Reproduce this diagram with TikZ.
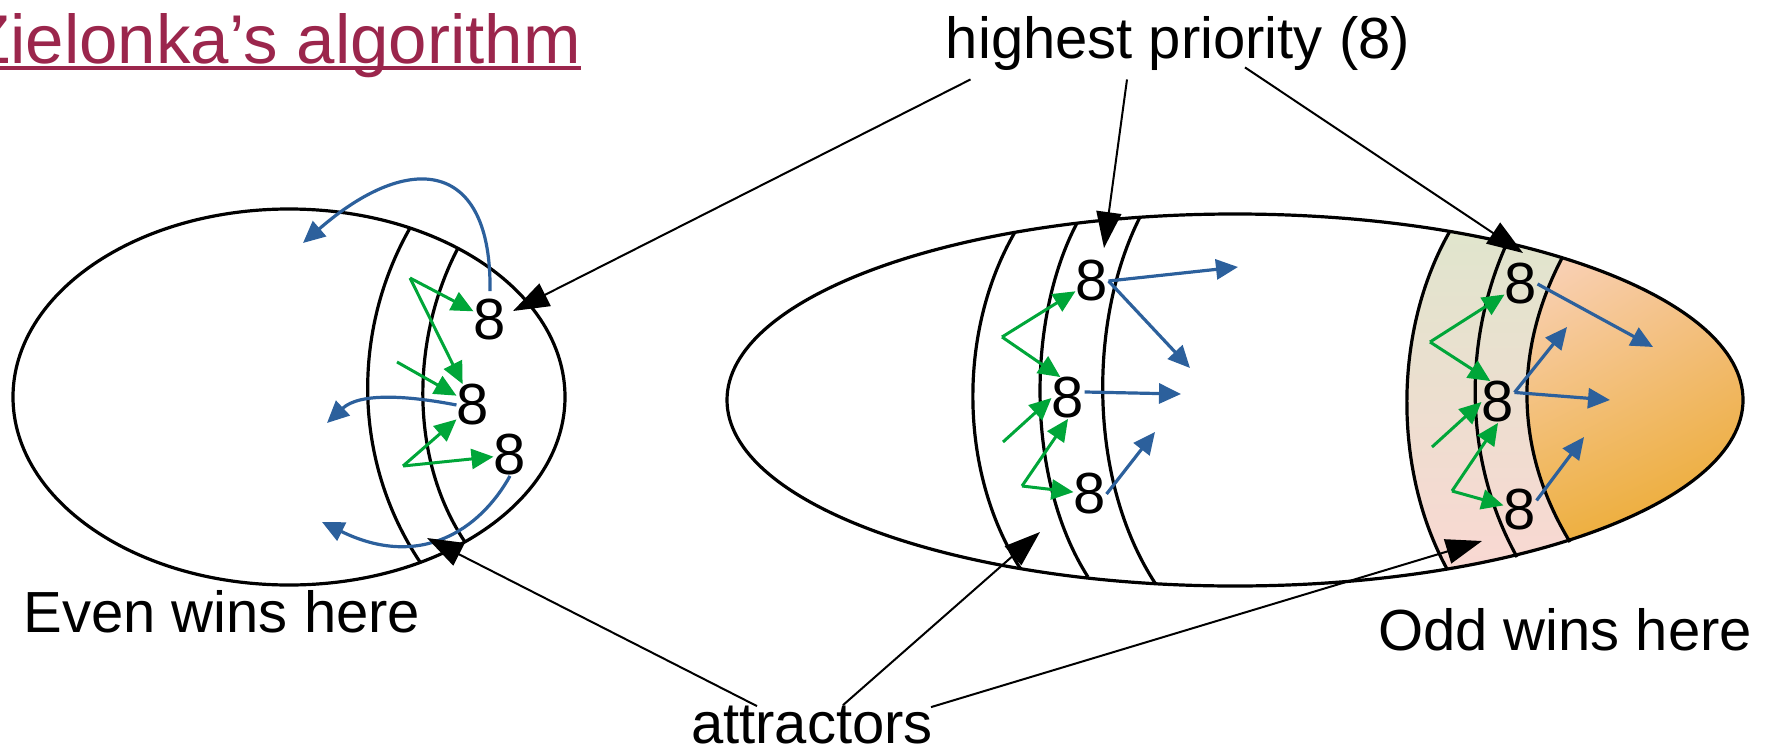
\documentclass[tikz,border=0pt]{standalone}
\usepackage{fontspec}
\setmainfont{Liberation Sans}
\usepackage{xcolor}
\usepackage{tikz}
\usetikzlibrary{arrows.meta, calc, shadings}

\definecolor{zielred}{RGB}{155,38,76}
\definecolor{movblue}{RGB}{44,96,156}
\definecolor{movgreen}{RGB}{0,166,57}
\definecolor{bandtop}{RGB}{224,229,205}
\definecolor{bandbot}{RGB}{249,216,210}
\definecolor{oddA}{RGB}{250,212,192}
\definecolor{oddB}{RGB}{244,194,140}
\definecolor{oddC}{RGB}{238,178,72}
\definecolor{oddD}{RGB}{235,168,40}

\tikzset{
  lbl/.style={font=\fontsize{29pt}{34pt}\selectfont, inner sep=0pt, anchor=base},
  prio/.style={font=\fontsize{29pt}{34pt}\selectfont, inner sep=0pt},
  region/.style={line width=1.6pt},
  pointer/.style={line width=1pt, -{Triangle[length=18pt, width=12.5pt]}},
  oddmove/.style={movblue, line width=1.6pt, -{Triangle[length=11pt, width=10pt]}},
  evenmove/.style={movgreen, line width=1.5pt, -{Triangle[length=11pt, width=10pt]}},
}

\begin{document}
\begin{tikzpicture}[x=0.5pt, y=-0.5pt]
    \useasboundingbox (0,0) rectangle (1765,755);

    % 1. Shaded attractor bands and odd region of the right game
    \begin{scope}
        \clip (1235,400) ellipse [x radius=508, y radius=186];
        \shade[top color=bandtop, bottom color=bandbot]
            (1450,231) .. controls (1393,330) and (1393,470) .. (1447,569) -- (1572,569)
            -- (1570,542) .. controls (1514,450) and (1514,350) .. (1562,258) -- (1562,231) -- cycle;
        \shade[upper left=oddA, upper right=oddB, lower left=oddC, lower right=oddD]
            (1562,258) .. controls (1514,350) and (1514,450) .. (1570,542)
            -- (1745,542) -- (1745,258) -- cycle;
    \end{scope}

    % 2. The two games
    \draw[region] (289,397) ellipse [x radius=276, y radius=188];
    \draw[region] (1235,400) ellipse [x radius=508, y radius=186];

    % 3. Attractor borders
    % left game
    \draw[region] (410,228) .. controls (352,330) and (352,460) .. (420,562);
    \draw[region] (458,248) .. controls (410,340) and (410,460) .. (465,542);
    % right game, middle
    \draw[region] (1015,232) .. controls (958,330) and (958,470) .. (1020,568);
    \draw[region] (1077,223) .. controls (1026,320) and (1026,480) .. (1088,577);
    \draw[region] (1140,217) .. controls (1088,320) and (1088,480) .. (1155,583);
    % right game, odd side
    \draw[region] (1450,231) .. controls (1393,330) and (1393,470) .. (1447,569);
    \draw[region] (1507,243) .. controls (1463,340) and (1463,460) .. (1517,557);
    \draw[region] (1562,258) .. controls (1514,350) and (1514,450) .. (1570,542);

    % 4. Vertices of priority 8
    \node[prio] (l8a) at (490,320) {8};
    \node[prio] (l8b) at (473,405) {8};
    \node[prio] (l8c) at (510,455) {8};
    \node[prio] (m8a) at (1092,281) {8};
    \node[prio] (m8b) at (1068,398) {8};
    \node[prio] (m8c) at (1090,494) {8};
    \node[prio] (r8a) at (1521,284) {8};
    \node[prio] (r8b) at (1498,402) {8};
    \node[prio] (r8c) at (1520,510) {8};

    % 5. Green moves into the attractors
    \coordinate (lg1) at (410,278);
    \coordinate (lg2) at (397,362);
    \coordinate (lg3) at (403,466);
    \draw[evenmove] (lg1) -- (l8a);
    \draw[evenmove] (lg1) -- (l8b);
    \draw[evenmove] (lg2) -- (l8b);
    \draw[evenmove] (lg3) -- (l8b);
    \draw[evenmove] (lg3) -- (l8c);

    \coordinate (mg1) at (1002,337);
    \coordinate (mg2) at (1003,442);
    \coordinate (mg3) at (1022,486);
    \draw[evenmove] (mg1) -- (m8a);
    \draw[evenmove] (mg1) -- (m8b.110);
    \draw[evenmove] (mg2) -- (m8b.west);
    \draw[evenmove] (mg3) -- (m8b.south);
    \draw[evenmove] (mg3) -- (m8c);

    \coordinate (rg1) at (1430,342);
    \coordinate (rg2) at (1432,447);
    \coordinate (rg3) at (1452,491);
    \draw[evenmove] (rg1) -- (r8a);
    \draw[evenmove] (rg1) -- (r8b.110);
    \draw[evenmove] (rg2) -- (r8b.west);
    \draw[evenmove] (rg3) -- (r8b.south);
    \draw[evenmove] (rg3) -- (r8c);

    % 6. Blue moves out of the 8-vertices
    \coordinate (lb1) at (303,243);
    \coordinate (lb2) at (327,423);
    \coordinate (lb3) at (322,522);
    \draw[oddmove] ([yshift=4pt]l8a.north) .. controls (492,160) and (410,150) .. (lb1);
    \draw[oddmove] (l8b.west) .. controls (410,396) and (360,392) .. (lb2);
    \draw[oddmove] (l8c.south) .. controls (480,530) and (420,570) .. (lb3);

    \coordinate (mb1) at (1238,267);
    \coordinate (mb2) at (1190,368);
    \coordinate (mb3) at (1181,394);
    \coordinate (mb4) at (1155,432);
    \draw[oddmove] (m8a.east) -- (mb1);
    \draw[oddmove] (m8a.east) -- (mb2);
    \draw[oddmove] (m8b.20) -- (mb3);
    \draw[oddmove] (m8c.east) -- (mb4);

    \coordinate (rb1) at (1653,347);
    \coordinate (rb2) at (1567,327);
    \coordinate (rb3) at (1610,400);
    \coordinate (rb4) at (1584,437);
    \draw[oddmove] (r8a.east) -- (rb1);
    \draw[oddmove] (r8b.30) -- (rb2);
    \draw[oddmove] (r8b.30) -- (rb3);
    \draw[oddmove] (r8c.30) -- (rb4);

    % 7. Title and labels
    \node[lbl, anchor=base west, font=\fontsize{34.5pt}{41pt}\selectfont, text=zielred]
        (title) at (-32,63) {Zielonka’s algorithm};
    \draw[zielred, line width=1.75pt] ([yshift=-2.5pt]title.base west) -- ([yshift=-2.5pt]title.base east);

    \node[lbl] (hp) at (1178,58) {highest priority (8)};
    \node[lbl] (att) at (812,743) {attractors};
    \node[lbl] (even) at (222,632) {Even wins here};
    \node[lbl] (odd) at (1565,650) {Odd wins here};

    % 8. Pointers
    \coordinate (hl) at (513,311);
    \coordinate (hm) at (1104,248);
    \coordinate (hr) at (1523,253);
    \draw[pointer] ($(hp.south west)+(25,9)$) -- (hl);
    \draw[pointer] ($(hp.south)+(-51,9)$) -- (hm);
    \draw[pointer] ($(hp.south)+(67,-3)$) -- (hr);

    \coordinate (al) at (427,538);
    \coordinate (am) at (1040,532);
    \coordinate (ar) at (1482,541);
    \draw[pointer] ($(att.north)+(-55,1)$) -- (al);
    \draw[pointer] ($(att.north)+(31,0)$) -- (am);
    \draw[pointer] ($(att.north)+(119,2)$) -- (ar);

\end{tikzpicture}
\end{document}
